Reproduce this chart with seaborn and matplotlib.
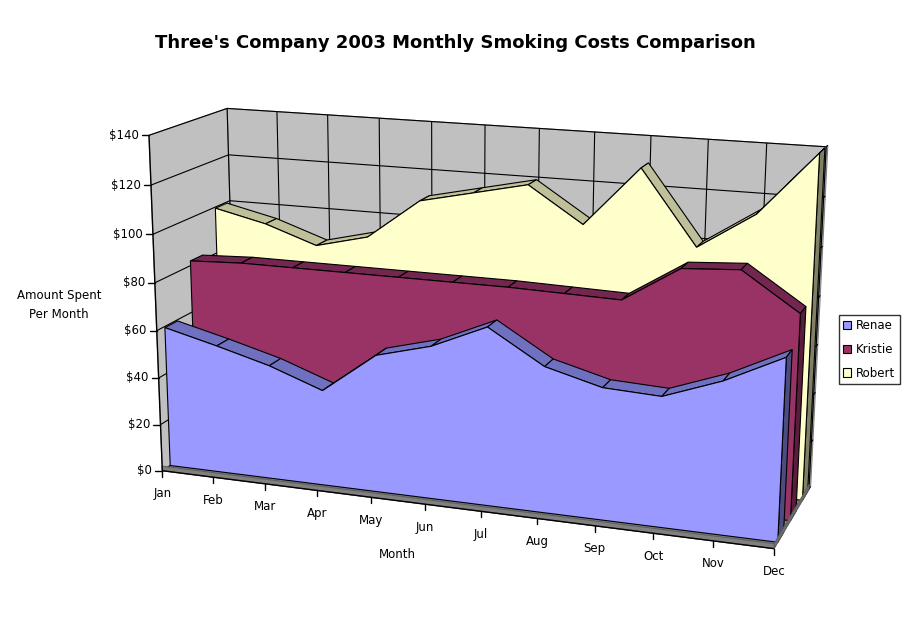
import numpy as np
import matplotlib
matplotlib.use("Agg")
import matplotlib.pyplot as plt
import seaborn as sns
from matplotlib.patches import Polygon, Patch

TITLE = "Three's Company 2003 Monthly Smoking Costs Comparison"
MONTHS = ["Jan", "Feb", "Mar", "Apr", "May", "Jun", "Jul", "Aug", "Sep", "Oct", "Nov", "Dec"]
SERIES_NAMES = ["Renae", "Kristie", "Robert"]
RENAE = [59.5, 54, 48, 40, 57, 63, 73, 59.5, 53.5, 52.5, 61, 72.5]
KRISTIE = [82, 83, 83, 83, 83, 83, 83, 82.5, 82, 96.5, 98, 83]
ROBERT = [99.5, 94.5, 87, 92.5, 109.5, 114.5, 119.5, 105, 129.5, 99.5, 114.5, 140]
Y_TICKS = [0, 20, 40, 60, 80, 100, 120, 140]
Y_LABELS = ["$0", "$20", "$40", "$60", "$80", "$100", "$120", "$140"]

FRONT_COLORS = ["#9999FF", "#993366", "#FFFFCC"]
TOP_COLORS = ["#7070C0", "#732650", "#BFBF99"]
END_COLORS = ["#4C4C80", "#5A1D3C", "#808066"]
SLABS = [(0.10, 0.26), (0.45, 0.61), (0.80, 0.96)]
FLOOR_THICKNESS = 2.0

# box corners of Excel's 3-D view: (month index, value, depth 0..1) -> pixel
VIEW_ANCHORS = [
    ((0, 0, 0), (162.7, 471.0)), ((0, 40, 0), (158.7, 377.7)), ((0, 80, 0), (155.0, 283.3)),
    ((0, 120, 0), (150.5, 185.0)), ((0, 140, 0), (148.7, 135.7)),
    ((5, 0, 0), (424.9, 504.0)), ((11, 0, 0), (774.5, 548.0)),
    ((0, 140, 1), (228.3, 108.3)), ((0, 120, 1), (228.5, 155.0)), ((0, 100, 1), (229.0, 200.0)),
    ((5, 140, 1), (485.0, 125.0)), ((11, 140, 1), (826.0, 147.0)),
    ((11, 80, 1), (819.0, 297.0)), ((11, 0, 1), (808.5, 490.0)),
]


def fit_camera(anchors):
    """Fit a 3x4 perspective camera to the anchor points (plain DLT)."""
    rows = []
    for (m, v, d), (u, w) in anchors:
        X = np.array([m / 11, v / 140, d, 1.0])
        u, w = u / 500, w / 500
        rows.append(np.concatenate([X, np.zeros(4), -u * X]))
        rows.append(np.concatenate([np.zeros(4), X, -w * X]))
    _, _, vt = np.linalg.svd(np.array(rows))
    return vt[-1].reshape(3, 4)


CAM = fit_camera(VIEW_ANCHORS)


def project(m, v, d):
    m, v, d = np.broadcast_arrays(np.asarray(m, float), np.asarray(v, float), np.asarray(d, float))
    X = np.stack([m / 11, v / 140, d, np.ones_like(m)])
    p = CAM @ X
    return np.stack([p[0] / p[2] * 500, p[1] / p[2] * 500], axis=-1)


sns.set_theme(style="white")
plt.rcParams["font.family"] = ["DejaVu Sans"]
plt.rcParams["text.color"] = "black"
fig = plt.figure(figsize=(9.11, 6.23), dpi=100)
ax = fig.add_axes([0, 0, 1, 1])
ax.set_xlim(0, 911)
ax.set_ylim(623, 0)
ax.axis("off")


def face(pts, fc, z, ec="black", lw=0.8):
    ax.add_patch(Polygon(project(*np.array(pts, float).T), closed=True,
                         fc=fc, ec=ec, lw=lw, zorder=z, joinstyle="miter"))


def line(ms, vs, ds, z=2, color="black", lw=0.8):
    ax.plot(*project(ms, vs, ds).T, color=color, lw=lw, zorder=z, solid_capstyle="butt")


# walls and floor
face([(0, 0, 1), (11, 0, 1), (11, 140, 1), (0, 140, 1)], "#C0C0C0", 1, ec="#808080")
face([(11, 0, 1), (11, 0, 1.05), (11, 140, 1.05), (11, 140, 1)], "#C0C0C0", 1, ec="#808080")
face([(0, 0, 0), (0, 0, 1), (0, 140, 1), (0, 140, 0)], "#C0C0C0", 1, ec="#808080")
face([(0, 0, 0), (11, 0, 0), (11, 0, 1), (0, 0, 1)], "#808080", 1, ec="#808080")
for v in Y_TICKS:
    line([0, 0, 11, 11], v, [0, 1, 1, 1.05])
for m in range(12):
    line(m, [0, 140], 1)

# area series, back to front
z = 3
for k in [2, 1, 0]:
    vals = [RENAE, KRISTIE, ROBERT][k]
    d0, d1 = SLABS[k]
    for i in range(11):
        face([(i, vals[i], d0), (i + 1, vals[i + 1], d0),
              (i + 1, vals[i + 1], d1), (i, vals[i], d1)], TOP_COLORS[k], z)
    face([(11, 0, d0), (11, vals[-1], d0), (11, vals[-1], d1), (11, 0, d1)], END_COLORS[k], z)
    pts = [(0, 0, d0)] + [(i, vals[i], d0) for i in range(12)] + [(11, 0, d0)]
    face(pts, FRONT_COLORS[k], z + 1)
    z += 2

# floor slab edges sit in front of the series
t = FLOOR_THICKNESS
face([(11, 0, 0), (11, 0, 1), (11, t, 1), (11, t, 0)], "#707070", 15, ec="#606060")
face([(0, 0, 0), (11, 0, 0), (11, t, 0), (0, t, 0)], "#808080", 16, ec="#606060")

# value axis
line([0, 0], [0, 140], [0, 0], z=20, lw=1.0)
for v, lab in zip(Y_TICKS, Y_LABELS):
    x, y = project(0, v, 0)
    ax.plot([x - 7, x], [y, y], color="black", lw=1.0, zorder=20)
    ax.text(x - 10, y, lab, ha="right", va="center", fontsize=8.5, zorder=20)

# category axis
line([0, 11], [0, 0], [0, 0], z=20, lw=1.0)
for m, lab in enumerate(MONTHS):
    x, y = project(m, 0, 0)
    ax.plot([x, x], [y, y + 6], color="black", lw=1.0, zorder=20)
    ax.text(x, y + 23, lab, ha="center", va="center", fontsize=8.5, zorder=20)

ax.text(397, 554, "Month", ha="center", va="center", fontsize=8.5)
ax.text(59, 305, "Amount Spent\nPer Month", ha="center", va="center",
        fontsize=8.5, linespacing=1.6)
ax.text(455.5, 43, TITLE, ha="center", va="center", fontsize=13, fontweight="bold")

handles = [Patch(fc=c, ec="black", lw=0.8) for c in FRONT_COLORS]
leg = ax.legend(handles, SERIES_NAMES, loc="center left", bbox_to_anchor=(839, 349.5),
                bbox_transform=ax.transData, fontsize=8.5, frameon=True, fancybox=False,
                edgecolor="black", handlelength=0.7, handleheight=0.7, handletextpad=0.4,
                labelspacing=0.9, borderpad=0.35, borderaxespad=0)
leg.get_frame().set_linewidth(1.0)
for txt in leg.get_texts():
    txt.set_color("black")

fig.savefig("out.png", dpi=100)
